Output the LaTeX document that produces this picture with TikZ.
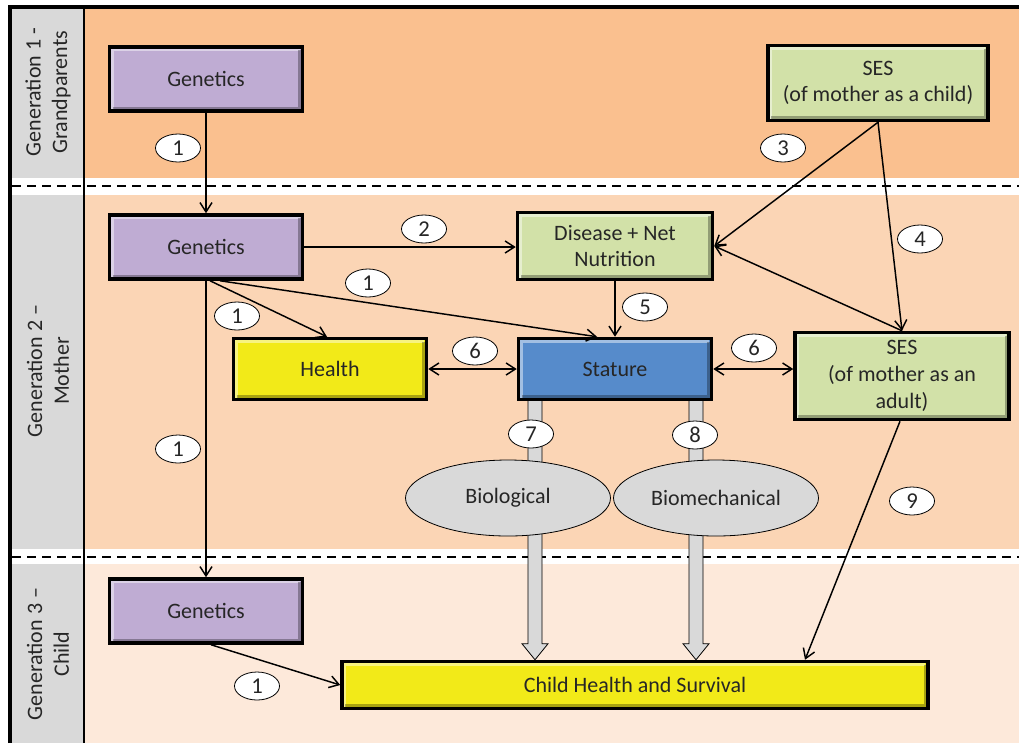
\documentclass[tikz,border=0pt]{standalone}
\usepackage{fontspec}
\setmainfont{Carlito}
\usepackage{tikz}
\usetikzlibrary{arrows.meta,shapes.geometric,calc}

\newdimen\pxu \pxu=0.75pt

\definecolor{genone}{RGB}{250,192,143}
\definecolor{gentwo}{RGB}{251,213,181}
\definecolor{genthree}{RGB}{253,233,218}
\definecolor{sidegray}{RGB}{217,217,217}
\definecolor{genpurple}{RGB}{191,172,211}
\definecolor{sesgreen}{RGB}{210,225,168}
\definecolor{hlyellow}{RGB}{242,234,24}
\definecolor{statblue}{RGB}{86,139,203}
\definecolor{txt}{RGB}{38,38,38}

\pgfdeclarelayer{bg}
\pgfdeclarelayer{mid}
\pgfsetlayers{bg,mid,main}

\tikzset{
  factor/.style={draw=black, line width=3.5\pxu, text=txt, align=center,
    minimum width=193\pxu, minimum height=64\pxu, inner sep=1pt,
    path picture={
      \draw[white, opacity=0.45, line width=2.5\pxu]
        ([shift={(3\pxu,-3\pxu)}]path picture bounding box.south west)
        -- ([shift={(3\pxu,-3\pxu)}]path picture bounding box.north west)
        -- ([shift={(-3\pxu,-3\pxu)}]path picture bounding box.north east);
      \draw[black, opacity=0.3, line width=2.5\pxu]
        ([shift={(3\pxu,3\pxu)}]path picture bounding box.south west)
        -- ([shift={(-3\pxu,3\pxu)}]path picture bounding box.south east)
        -- ([shift={(-3\pxu,-3\pxu)}]path picture bounding box.north east);
    }},
  num/.style={ellipse, draw=black, fill=white, line width=0.6pt, text=txt,
    minimum width=45\pxu, minimum height=28\pxu, inner sep=0pt,
    font=\fontsize{17}{20}\selectfont},
  mech/.style={ellipse, draw=black, fill=sidegray, line width=0.6pt, text=txt,
    minimum width=205\pxu, minimum height=76\pxu, inner sep=0pt},
  link/.style={-{Straight Barb[length=7pt,width=9pt]}, line width=1.1pt},
  twolink/.style={{Straight Barb[length=7pt,width=9pt]}-{Straight Barb[length=7pt,width=9pt]}, line width=1.1pt},
  blockarr/.style={fill=sidegray, draw=black, line width=0.6pt},
  sep/.style={line width=2\pxu, dash pattern=on 9\pxu off 6\pxu},
  genlabel/.style={rotate=90, align=center, text=txt}
}

\begin{document}
\begin{tikzpicture}[x=\pxu, y=-\pxu, font=\fontsize{16.5}{20}\selectfont]

\useasboundingbox (0,0) rectangle (1019,743);

% generation bands
\begin{pgfonlayer}{bg}
\fill[white] (0,0) rectangle (1019,743);
\fill[genone] (84,9) rectangle (1019,178);
\fill[gentwo] (84,195) rectangle (1019,549);
\fill[genthree] (84,564) rectangle (1019,743);
\fill[sidegray] (12,9) rectangle (84,178);
\fill[sidegray] (12,195) rectangle (84,549);
\fill[sidegray] (12,564) rectangle (84,743);
\draw[sep] (12,186) -- (1019,186);
\draw[sep] (12,557) -- (1019,557);
\draw[line width=2\pxu] (84,9) -- (84,743);
\draw[line width=4.5\pxu] (10,743) -- (10,7) -- (1019,7);
\end{pgfonlayer}

\node[genlabel] (lab1) at (48,92) {Generation 1 -\\Grandparents};
\node[genlabel] (lab2) at (48,371) {Generation 2 –\\Mother};
\node[genlabel] (lab3) at (48,654) {Generation 3 –\\Child};

% factors
\node[factor, fill=genpurple] (g1) at (206,79) {Genetics};
\node[factor, fill=sesgreen, minimum width=220\pxu, minimum height=75\pxu] (seschild) at (878,83) {SES\\(of mother as a child)};
\node[factor, fill=genpurple] (g2) at (206,247) {Genetics};
\node[factor, fill=sesgreen, minimum width=195\pxu, minimum height=67\pxu] (disease) at (615,246) {Disease + Net\\Nutrition};
\node[factor, fill=hlyellow, minimum height=61\pxu] (health) at (330,369) {Health};
\node[factor, fill=statblue, minimum height=61\pxu] (stature) at (615,369) {Stature};
\node[factor, fill=sesgreen, minimum width=214\pxu, minimum height=87\pxu] (sesadult) at (902,376) {SES\\(of mother as an\\adult)};
\node[mech] (bio) at (508,498) {Biological};
\node[mech] (biomech) at (716,498) {Biomechanical};
\node[factor, fill=genpurple] (g3) at (206,611) {Genetics};
\node[factor, fill=hlyellow, minimum width=586\pxu, minimum height=47\pxu] (child) at (635,685) {Child Health and Survival};

% block arrows from stature
\begin{pgfonlayer}{mid}
\coordinate (bioTop) at ($(stature.south)+(-80,-4)$);
\coordinate (bioTip) at (bioTop |- child.north);
\coordinate (mechTop) at ($(stature.south)+(81,-4)$);
\coordinate (mechTip) at (mechTop |- child.north);
\draw[blockarr] ($(bioTop)+(-7,0)$) -- ($(bioTip)+(-7,-16)$) -- ($(bioTip)+(-13,-16)$) -- (bioTip)
  -- ($(bioTip)+(13,-16)$) -- ($(bioTip)+(7,-16)$) -- ($(bioTop)+(7,0)$);
\draw[blockarr] ($(mechTop)+(-7,0)$) -- ($(mechTip)+(-7,-16)$) -- ($(mechTip)+(-13,-16)$) -- (mechTip)
  -- ($(mechTip)+(13,-16)$) -- ($(mechTip)+(7,-16)$) -- ($(mechTop)+(7,0)$);
\end{pgfonlayer}

% pathways
\draw[link] (g1) -- (g2);
\draw[link] (g2.east) -- (g2.east -| disease.west);
\draw[link] ($(g2.south)+(4,0)$) -- ($(health.north)+(-3,0)$);
\draw[link] ($(g2.south)+(14,0)$) -- ($(stature.north)+(-18,0)$);
\draw[link] (g2.south) -- (g3.north);
\draw[link] (seschild.south) -- (disease.east);
\draw[link] (seschild.south) -- (sesadult.north);
\draw[link] (sesadult.north) -- (disease.east);
\draw[link] (disease) -- (stature);
\draw[twolink] (health) -- (stature);
\draw[twolink] (stature.east) -- (stature.east -| sesadult.west);
\draw[link] ($(sesadult.south)+(-2,0)$) -- ($(child.north)+(170,0)$);
\draw[link] ($(g3.south)+(5,0)$) -- (child.west);

% pathway numbers
\node[num] (n1a) at (178,148) {1};
\node[num] (n3) at (783,148) {3};
\node[num] (n2) at (424,229) {2};
\node[num] (n4) at (920,239) {4};
\node[num] (n1b) at (368,283) {1};
\node[num] (n1c) at (237,316) {1};
\node[num] (n5) at (645,307) {5};
\node[num] (n6a) at (475,351) {6};
\node[num] (n6b) at (754,348) {6};
\node[num] (n7) at (531,434) {7};
\node[num] (n8) at (695,435) {8};
\node[num] (n1d) at (178,449) {1};
\node[num] (n9) at (912,501) {9};
\node[num] (n1e) at (257,686) {1};

\end{tikzpicture}
\end{document}
